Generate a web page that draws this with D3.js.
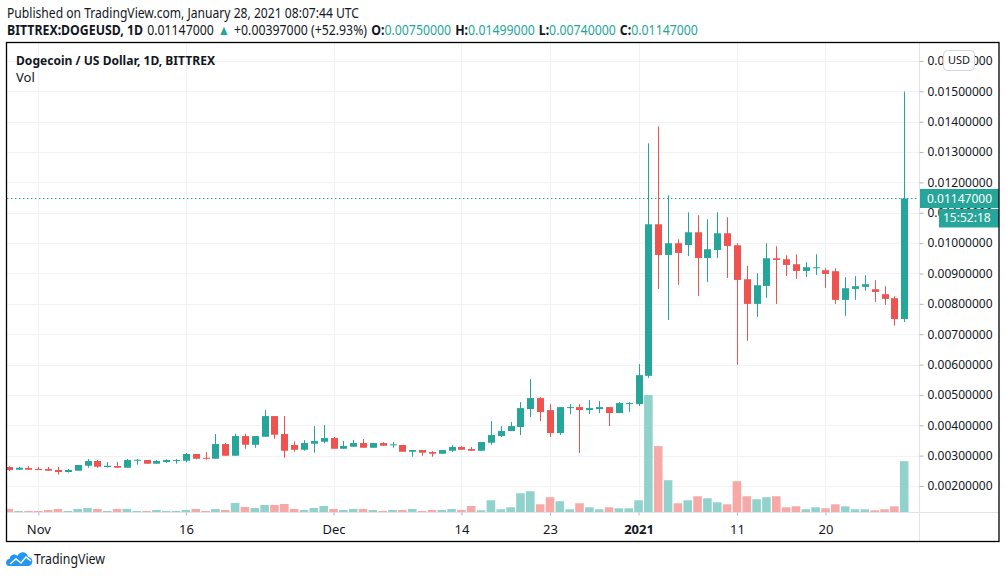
<!DOCTYPE html>
<html>
<head>
<meta charset="utf-8">
<script src="https://cdn.jsdelivr.net/npm/d3@7"></script>
<style>
  body { margin: 0; background: #fff; }
  text { font-family: "Noto Sans", "Open Sans", sans-serif; fill: #131722; }
</style>
</head>
<body>
<div id="chart-section"></div>
<script>

// daily candles, 29 Oct 2020 -> 28 Jan 2021 (DOGEUSD, BITTREX)
var firstDay = new Date(Date.UTC(2020, 9, 29))
var lastDay = new Date(Date.UTC(2021, 0, 28))

var open = [
 0.002625, 0.002536, 0.002592, 0.002559, 0.002559, 0.002526, 0.002461, 0.002503, 0.002668, 0.002823,
 0.002625, 0.002658, 0.002602, 0.002832, 0.002855, 0.002734, 0.00279, 0.002832, 0.002832, 0.003053,
 0.002931, 0.002898, 0.003382, 0.002997, 0.003645, 0.003359, 0.003622, 0.004303, 0.003711, 0.003349,
 0.003194, 0.003392, 0.003457,
 0.003579, 0.003227, 0.003293, 0.003415, 0.00326, 0.003415, 0.003339, 0.003349, 0.003128, 0.003184,
 0.003119, 0.003063, 0.003161, 0.003283, 0.003217, 0.003161, 0.003425, 0.003645, 0.00381, 0.003941,
 0.004533, 0.004895, 0.0045, 0.003744, 0.004566, 0.004599, 0.0045, 0.004533, 0.004599, 0.004402, 0.004708,
 0.004698, 0.005629, 0.01062, 0.00961, 0.009995, 0.009939, 0.010357, 0.009511, 0.009774, 0.010324,
 0.009929, 0.00881, 0.007998, 0.00859, 0.009501, 0.009468, 0.009304, 0.009083, 0.009182, 0.009106,
 0.009074, 0.00813, 0.008491, 0.008557, 0.008481, 0.008317, 0.008185, 0.0075
]
var high = [
 0.002642, 0.002635, 0.002658, 0.002625, 0.002625, 0.002625, 0.002559, 0.002691, 0.002888, 0.002855,
 0.00279, 0.00279, 0.002888, 0.002888, 0.002855, 0.002855, 0.002878, 0.002888, 0.003086, 0.003053,
 0.003119, 0.003711, 0.003415, 0.003721, 0.003721, 0.003645, 0.0045, 0.004303, 0.004303, 0.003471,
 0.003513, 0.003974, 0.004007,
 0.003612, 0.003481, 0.003513, 0.003546, 0.003415, 0.003448, 0.003448, 0.003349, 0.003184, 0.003184,
 0.003152, 0.003184, 0.003349, 0.003316, 0.003283, 0.003448, 0.004139, 0.003974, 0.004106, 0.004764,
 0.00552, 0.004928, 0.004698, 0.004599, 0.004698, 0.004698, 0.004829, 0.004797, 0.004599, 0.004764, 0.004764,
 0.006014, 0.013285, 0.013844, 0.011574, 0.010126, 0.011015, 0.010916, 0.010784, 0.011015, 0.01085,
 0.009995, 0.009248, 0.009008, 0.009995, 0.009896, 0.0096, 0.009633, 0.00937, 0.009633, 0.009172,
 0.009172, 0.008876, 0.008909, 0.008942, 0.008777, 0.00858, 0.008251, 0.01499
]
var low = [
 0.002494, 0.002526, 0.002526, 0.002526, 0.002494, 0.002372, 0.002444, 0.002503, 0.002602, 0.002602,
 0.002602, 0.002592, 0.002602, 0.002701, 0.002734, 0.002734, 0.002767, 0.002734, 0.00278, 0.002878,
 0.002865, 0.002898, 0.002997, 0.002997, 0.003227, 0.00326, 0.003622, 0.003556, 0.002931, 0.003128,
 0.003161, 0.003096, 0.003405,
 0.003227, 0.003227, 0.003293, 0.00326, 0.00326, 0.003326, 0.00326, 0.003128, 0.002964, 0.002997,
 0.002964, 0.003063, 0.003128, 0.003194, 0.003161, 0.003161, 0.003359, 0.003612, 0.00381, 0.003678,
 0.00427, 0.004139, 0.003612, 0.003678, 0.004369, 0.003086, 0.004369, 0.004402, 0.003974, 0.004402, 0.004435,
 0.004632, 0.005563, 0.008491, 0.007471, 0.008623, 0.009577, 0.008261, 0.008721, 0.009511, 0.008853,
 0.005991, 0.00678, 0.00757, 0.008195, 0.007998, 0.008919, 0.00882, 0.008886, 0.008952, 0.008524,
 0.007998, 0.007603, 0.00813, 0.008425, 0.008063, 0.007965, 0.00728, 0.0074
]
var close = [
 0.002526, 0.002602, 0.002536, 0.002536, 0.002503, 0.002461, 0.002526, 0.002691, 0.002823, 0.002635,
 0.002668, 0.002602, 0.002855, 0.002865, 0.002734, 0.002823, 0.002855, 0.002855, 0.003053, 0.002898,
 0.002898, 0.003382, 0.002997, 0.003645, 0.003359, 0.003645, 0.004303, 0.003688, 0.003161, 0.003194,
 0.003415, 0.003481, 0.003579,
 0.003227, 0.003316, 0.003415, 0.00326, 0.003415, 0.003326, 0.003372, 0.003128, 0.003184, 0.003096,
 0.003063, 0.003184, 0.003283, 0.003194, 0.003161, 0.003448, 0.003678, 0.00381, 0.003974, 0.004566,
 0.004895, 0.004435, 0.003744, 0.004599, 0.004599, 0.0045, 0.004566, 0.004599, 0.004402, 0.004731, 0.004731,
 0.005652, 0.01062, 0.00961, 0.009995, 0.009676, 0.010357, 0.009511, 0.009797, 0.010324, 0.009906,
 0.008787, 0.007998, 0.008613, 0.009501, 0.009445, 0.009281, 0.009083, 0.009205, 0.009205, 0.008985,
 0.00813, 0.008514, 0.00858, 0.008646, 0.008392, 0.008162, 0.0075, 0.01147
]
// volume, millions of DOGE (rough)
var volume = [
 30, 10, 10, 10, 20, 30, 10, 30, 40, 30,
 10, 30, 30, 10, 10, 20, 10, 10, 20, 30,
 10, 30, 20, 90, 50, 40, 70, 70, 80, 30,
 20, 40, 60,
 30, 20, 30, 30, 20, 10, 20, 20, 30, 10,
 20, 20, 30, 20, 60, 17, 117, 27, 47, 187,
 207, 77, 147, 107, 27, 87, 47, 27, 47, 37, 37,
 117, 1167, 657, 317, 87, 117, 157, 137, 97, 77,
 307, 157, 127, 147, 157, 47, 57, 27, 47, 37,
 77, 57, 27, 27, 17, 27, 57, 507
]

var priceTicks = [0.002, 0.003, 0.004, 0.005, 0.006, 0.007, 0.008, 0.009, 0.010, 0.011, 0.012, 0.013, 0.014, 0.015, 0.016]
var timeTickDates = ["2020-11-01", "2020-11-16", "2020-12-01", "2020-12-14", "2020-12-23", "2021-01-01", "2021-01-11", "2021-01-20"]
var timeTickLabels = ["Nov", "16", "Dec", "14", "23", "2021", "11", "20"]

var lastPrice = 0.01147
var countdown = "15:52:18"

var upColor = "#26a69a", downColor = "#ef5350"
var upVol = "#92d2cc", downVol = "#f7a9a7"

var days = d3.utcDay.range(firstDay, d3.utcDay.offset(lastDay, 1))
var dataset = days.map((d, i) => ({
        date: d, o: open[i], h: high[i], l: low[i], c: close[i], v: volume[i]
}))

var W = 1006, H = 578
var pane = {left: 7, right: 919, top: 43, bottom: 512}   // price pane
var frameRight = 999, frameBottom = 541

var svg = d3.select("#chart-section")
        .append("svg")
        .attr("width", W)
        .attr("height", H)

// scales
var xscale = d3.scaleUtc()
        .domain([firstDay, lastDay])
        .range([8.8, 904.2])

var yscale = d3.scaleLinear()
        .domain([0.002, 0.015])
        .range([486, 91.3])

var volscale = d3.scaleLinear()
        .domain([0, d3.max(volume)])
        .range([pane.bottom, 395])

// header text
svg.append("text")
        .attr("x", 7).attr("y", 18)
        .attr("font-size", 14)
        .attr("textLength", 352).attr("lengthAdjust", "spacingAndGlyphs")
        .text("Published on TradingView.com, January 28, 2021 08:07:44 UTC")

// second header line: laid out piece by piece, then squeezed to the width of the original
var headSegs = [
        {t: "BITTREX:DOGEUSD, 1D", b: true, gap: 1},
        {t: "0.01147000", gap: 1},
        {t: "▲", c: upColor, gap: 1},
        {t: "+0.00397000 (+52.93%)", gap: 1},
        {t: "O:", b: true, gap: 0}, {t: "0.00750000", c: upColor, gap: 1},
        {t: "H:", b: true, gap: 0}, {t: "0.01499000", c: upColor, gap: 1},
        {t: "L:", b: true, gap: 0}, {t: "0.00740000", c: upColor, gap: 1},
        {t: "C:", b: true, gap: 0}, {t: "0.01147000", c: upColor, gap: 0}
]
var headG = svg.append("g")
var hx = 0
headSegs.forEach(s => {
        var t = headG.append("text")
                .attr("x", hx).attr("y", 35)
                .attr("font-size", 14)
                .attr("font-weight", s.b ? "bold" : "normal")
                .style("fill", s.c || "#131722")
                .text(s.t)
        hx += t.node().getComputedTextLength() + s.gap * 4.5
})
headG.attr("transform", "translate(7,0) scale(" + (691 / hx) + ",1)")

// clip for the pane
svg.append("clipPath").attr("id", "paneClip")
        .append("rect")
        .attr("x", pane.left).attr("y", pane.top)
        .attr("width", pane.right - pane.left).attr("height", pane.bottom - pane.top)

// grid
var grid = svg.append("g").attr("clip-path", "url(#paneClip)")
grid.selectAll(".hgrid")
        .data(priceTicks)
        .enter().append("line")
        .attr("x1", pane.left).attr("x2", pane.right)
        .attr("y1", d => Math.round(yscale(d)) + 0.5).attr("y2", d => Math.round(yscale(d)) + 0.5)
        .attr("stroke", "#f0f2f5")
var tickDates = timeTickDates.map(s => new Date(s + "T00:00:00Z"))
grid.selectAll(".vgrid")
        .data(tickDates)
        .enter().append("line")
        .attr("x1", d => Math.round(xscale(d)) + 0.5).attr("x2", d => Math.round(xscale(d)) + 0.5)
        .attr("y1", pane.top).attr("y2", pane.bottom)
        .attr("stroke", "#f0f2f5")

// title in pane
svg.append("text")
        .attr("x", 16).attr("y", 65)
        .attr("font-size", 13).attr("font-weight", "bold")
        .attr("textLength", 199).attr("lengthAdjust", "spacingAndGlyphs")
        .text("Dogecoin / US Dollar, 1D, BITTREX")
svg.append("text")
        .attr("x", 16).attr("y", 82)
        .attr("font-size", 13)
        .text("Vol")

var chart = svg.append("g").attr("clip-path", "url(#paneClip)")

// volume bars
chart.selectAll(".vol")
        .data(dataset)
        .enter().append("rect")
        .attr("x", d => xscale(d.date) - 4.3)
        .attr("width", 8.6)
        .attr("y", d => volscale(d.v))
        .attr("height", d => pane.bottom - volscale(d.v))
        .attr("fill", d => d.c >= d.o ? upVol : downVol)

// wicks
chart.selectAll(".wick")
        .data(dataset)
        .enter().append("line")
        .attr("x1", d => Math.round(xscale(d.date)) + 0.5)
        .attr("x2", d => Math.round(xscale(d.date)) + 0.5)
        .attr("y1", d => yscale(d.h))
        .attr("y2", d => yscale(d.l))
        .attr("stroke", d => d.c >= d.o ? upColor : downColor)

// bodies
chart.selectAll(".body")
        .data(dataset)
        .enter().append("rect")
        .attr("x", d => Math.round(xscale(d.date)) - 3)
        .attr("width", 7)
        .attr("y", d => yscale(Math.max(d.o, d.c)))
        .attr("height", d => Math.max(1, Math.abs(yscale(d.o) - yscale(d.c))))
        .attr("fill", d => d.c >= d.o ? upColor : downColor)

// last price dotted line
chart.append("line")
        .attr("x1", pane.left).attr("x2", pane.right)
        .attr("y1", Math.round(yscale(lastPrice)) + 0.5).attr("y2", Math.round(yscale(lastPrice)) + 0.5)
        .attr("stroke", upColor)
        .attr("stroke-dasharray", "1.5,2.5")

// separators
svg.append("line")
        .attr("x1", pane.right + 0.5).attr("x2", pane.right + 0.5)
        .attr("y1", pane.top).attr("y2", frameBottom)
        .attr("stroke", "#e0e3eb")
svg.append("line")
        .attr("x1", pane.left).attr("x2", frameRight)
        .attr("y1", pane.bottom + 0.5).attr("y2", pane.bottom + 0.5)
        .attr("stroke", "#e0e3eb")

// price axis
var yAxis = svg.append("g")
        .attr("transform", "translate(" + (pane.right + 0.5) + ",0)")
        .call(d3.axisRight(yscale).tickValues(priceTicks).tickFormat(d3.format(".8f")).tickSize(4).tickPadding(4))
yAxis.select(".domain").remove()
yAxis.selectAll("line").attr("stroke", "#b2b5be")
yAxis.selectAll("text")
        .attr("font-size", 12)
        .attr("font-family", "\"Noto Sans\", sans-serif")
        .style("fill", "#131722")

// time axis
var xAxis = svg.append("g")
        .attr("transform", "translate(0," + (pane.bottom + 0.5) + ")")
        .call(d3.axisBottom(xscale).tickValues(tickDates).tickFormat((d, i) => timeTickLabels[i]).tickSize(3).tickPadding(9))
xAxis.select(".domain").remove()
xAxis.selectAll("line").attr("stroke", "#b2b5be")
xAxis.selectAll("text")
        .attr("font-size", 13)
        .attr("font-family", "\"Noto Sans\", sans-serif")
        .attr("font-weight", (d, i) => timeTickLabels[i] == "2021" ? "bold" : "normal")
        .style("fill", "#131722")

// last price label
var ly = yscale(lastPrice)
svg.append("rect")
        .attr("x", pane.right + 1).attr("y", ly - 9.5)
        .attr("width", frameRight - pane.right - 1).attr("height", 19)
        .attr("fill", upColor)
svg.append("text")
        .attr("x", 927).attr("y", ly)
        .attr("dy", "0.35em")
        .attr("font-size", 12)
        .style("fill", "#fff")
        .text(d3.format(".8f")(lastPrice))
svg.append("rect")
        .attr("x", 939).attr("y", ly + 10.5)
        .attr("width", frameRight - 939).attr("height", 18.5)
        .attr("fill", upColor)
svg.append("text")
        .attr("x", 943).attr("y", ly + 19.7)
        .attr("dy", "0.35em")
        .attr("font-size", 12)
        .style("fill", "#fff")
        .text(countdown)

// USD button
svg.append("rect")
        .attr("x", 943.5).attr("y", 50.5)
        .attr("width", 31).attr("height", 20)
        .attr("rx", 4)
        .attr("fill", "#fff")
        .attr("stroke", "#d1d4dc")
svg.append("text")
        .attr("x", 959).attr("y", 60.5)
        .attr("dy", "0.35em")
        .attr("text-anchor", "middle")
        .attr("font-size", 11)
        .text("USD")

// frame
svg.append("rect")
        .attr("x", 6.5).attr("y", 42.5)
        .attr("width", frameRight - 6.5).attr("height", frameBottom - 42)
        .attr("fill", "none")
        .attr("stroke", "#000")
        .attr("stroke-width", 1.3)

// TradingView logo
var logo = svg.append("g").attr("transform", "translate(6,551)")
logo.append("path")
        .attr("d", "M3,15 C-1,15 -1,8 3.5,8 C4,3.5 9,2 11.5,5 C13.5,0 21,0 22,6 C26,6 27,10 26,12 C25.5,14 24,15 22,15 Z")
        .attr("fill", "#2196f3")
logo.append("polyline")
        .attr("points", "4,13 10,8 15,12 20,6 25,10")
        .attr("fill", "none")
        .attr("stroke", "#fff")
        .attr("stroke-width", 1.6)
svg.append("text")
        .attr("x", 34).attr("y", 564)
        .attr("font-size", 14)
        .attr("textLength", 71).attr("lengthAdjust", "spacingAndGlyphs")
        .text("TradingView")

</script>
</body>
</html>
